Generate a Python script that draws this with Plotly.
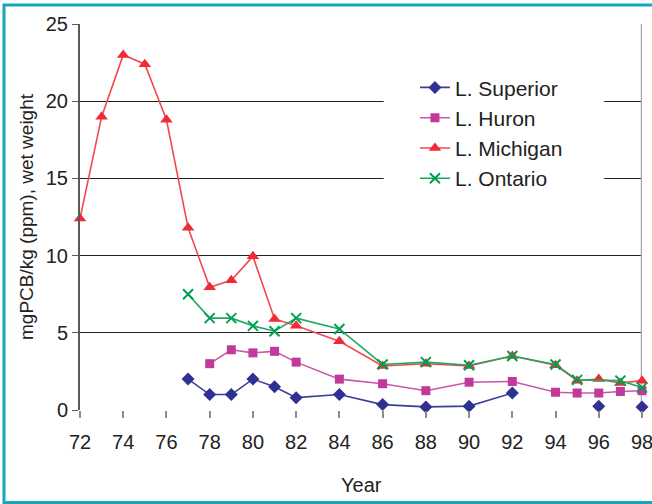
import plotly.graph_objects as go

# ---- data ----
superior_years = [77, 78, 79, 80, 81, 82, 84, 86, 88, 90, 92, 94, 96, 97, 98]
superior_vals = [2.0, 1.0, 1.0, 2.0, 1.5, 0.8, 1.0, 0.35, 0.2, 0.25, 1.1, None, 0.25, None, 0.2]

huron_years = [78, 79, 80, 81, 82, 84, 86, 88, 90, 92, 94, 95, 96, 97, 98]
huron_vals = [3.0, 3.9, 3.7, 3.8, 3.1, 2.0, 1.7, 1.25, 1.8, 1.85, 1.15, 1.1, 1.1, 1.2, 1.25]

michigan_years = [72, 73, 74, 75, 76, 77, 78, 79, 80, 81, 82, 84, 86, 88, 90, 92, 94, 95, 96, 97, 98]
michigan_vals = [12.4, 19.0, 23.0, 22.4, 18.8, 11.8, 7.95, 8.4, 9.95, 5.9, 5.45, 4.45, 2.85, 3.0, 2.85, 3.5, 2.9, 1.9, 2.0, 1.75, 1.9]

ontario_years = [77, 78, 79, 80, 81, 82, 84, 86, 88, 90, 92, 94, 95, 97, 98]
ontario_vals = [7.5, 5.95, 5.95, 5.45, 5.1, 5.95, 5.25, 2.95, 3.1, 2.9, 3.5, 2.95, 1.95, 1.9, 1.45]

x_ticks = list(range(72, 99, 2))
x_tick_labels = [str(t) for t in x_ticks]
y_ticks = [0, 5, 10, 15, 20, 25]

FONT = "Liberation Sans, Arial, sans-serif"

fig = go.Figure()

series = [
    ("L. Superior", superior_years, superior_vals, "#2E3192", "#3A3F9A", "diamond", 10),
    ("L. Huron", huron_years, huron_vals, "#C0399B", "#CC55AA", "square", 9),
    ("L. Michigan", michigan_years, michigan_vals, "#EE2B36", "#F0484F", "triangle-up", 11),
    ("L. Ontario", ontario_years, ontario_vals, "#00A050", "#1FA860", "x-thin", 10),
]
for i, (name, xs, ys, mcol, lcol, sym, size) in enumerate(series):
    marker = dict(symbol=sym, size=size, color=mcol)
    if sym == "x-thin":
        marker["line"] = dict(color=mcol, width=2)
    fig.add_trace(go.Scatter(
        x=xs, y=ys, name=name, mode="lines+markers",
        line=dict(color=lcol, width=1.6),
        marker=marker, connectgaps=False, cliponaxis=False,
        legendgroup=f"g{i}",
    ))

# white area behind legend covering gridlines
fig.add_shape(type="rect", xref="x", yref="y", x0=86.05, x1=96.25, y0=13.5, y1=22.3,
              fillcolor="white", line=dict(width=0), layer="between")
# right frame line
fig.add_shape(type="line", xref="x", yref="y", x0=98, x1=98, y0=0, y1=25,
              line=dict(color="#A8A8A8", width=2.5), layer="between")
# outer teal frame
fig.add_shape(type="rect", xref="paper", yref="paper",
              x0=(4 - 80) / 562, x1=(700 - 80) / 562,
              y0=(410 - 502.5) / 386, y1=1 + (24 - 5) / 386,
              line=dict(color="#16A8B6", width=3), fillcolor="rgba(0,0,0,0)", layer="above")

# x-axis title as annotation
fig.add_annotation(text="Year", xref="paper", yref="paper", x=0.5, y=(410 - 485) / 386,
                   xanchor="center", yanchor="middle", showarrow=False,
                   font=dict(family=FONT, size=20, color="#222222"))

fig.update_layout(
    width=652, height=504,
    margin=dict(l=80, r=10, t=24, b=94, autoexpand=False),
    paper_bgcolor="white", plot_bgcolor="white",
    font=dict(family=FONT, size=20, color="#222222"),
    showlegend=True,
    legend=dict(x=0.596, y=0.888, xanchor="left", yanchor="top",
                bgcolor="rgba(255,255,255,0)", font=dict(size=21, color="#222222"),
                traceorder="grouped", tracegroupgap=0, itemwidth=30),
    xaxis=dict(range=[72, 98], tickmode="array", tickvals=x_ticks, ticktext=x_tick_labels,
               showgrid=False, zeroline=False, showline=False, automargin=False,
               ticks="outside", ticklen=7, tickwidth=2, tickcolor="#8C8C8C",
               ticklabelstandoff=7, ticklabeloverflow="allow"),
    yaxis=dict(range=[0, 25], tickmode="array", tickvals=y_ticks, automargin=False,
               showgrid=True, gridcolor="#222222", gridwidth=1,
               zeroline=False, showline=True, linecolor="#5A5A5A", linewidth=2,
               ticks="outside", ticklen=6, tickwidth=1, tickcolor="#5A5A5A",
               title=dict(text="mgPCB/kg (ppm), wet weight", font=dict(size=19), standoff=7)),
)

fig.write_html(
    "out.html", config={"displayModeBar": False},
    post_script="document.body.style.margin='0';document.body.style.overflow='hidden';"
                "document.documentElement.style.overflow='hidden';",
)
